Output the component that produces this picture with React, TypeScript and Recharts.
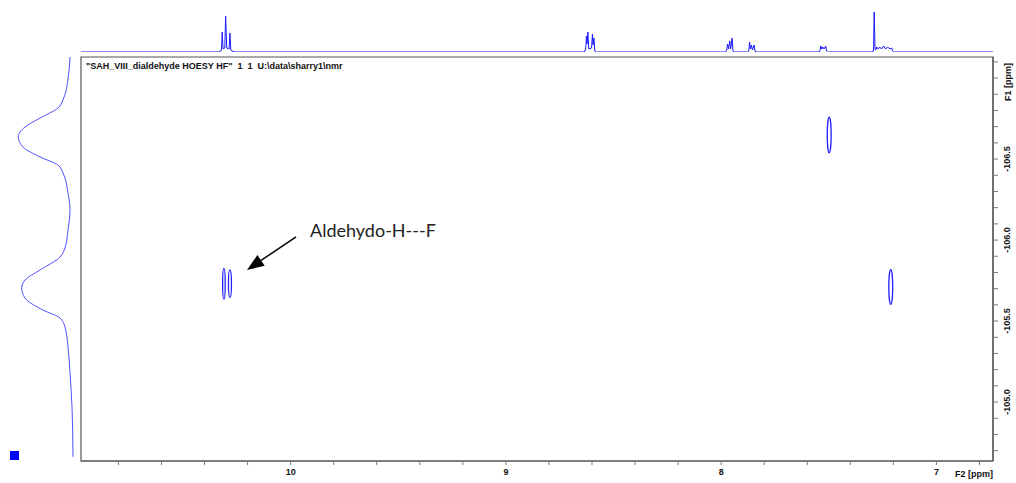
import React from 'react';
import { ComposedChart, LineChart, Line, Scatter, XAxis, YAxis, ReferenceArea, ReferenceLine, Label } from 'recharts';

// axis ranges (ppm)
const F2_DOMAIN: [number, number] = [6.737, 10.974];
const F1_DOMAIN: [number, number] = [-107.13, -104.636];

const f2Ticks = [10.8, 10.6, 10.4, 10.2, 10.0, 9.8, 9.6, 9.4, 9.2, 9.0, 8.8, 8.6, 8.4, 8.2, 8.0, 7.8, 7.6, 7.4, 7.2, 7.0, 6.8];
const f1Ticks = [
  -107.1, -107.0, -106.9, -106.8, -106.7, -106.6, -106.5, -106.4, -106.3, -106.2, -106.1, -106.0,
  -105.9, -105.8, -105.7, -105.6, -105.5, -105.4, -105.3, -105.2, -105.1, -105.0, -104.9, -104.8, -104.7,
];
const f1Labels = [-106.5, -106.0, -105.5, -105.0];

// cross peaks
const peakF2 = [10.310, 10.282, 7.498, 7.212];
const peakF1 = [-105.73, -105.73, -106.648, -105.71];
const peakHalfF2 = [0.006, 0.007, 0.009, 0.009];
const peakHalfF1 = [0.095, 0.085, 0.11, 0.107];

// 1H projection (top)
const topPpm = [
  10.974, 10.335, 10.325, 10.321, 10.318, 10.314, 10.306, 10.302, 10.297, 10.286, 10.282, 10.278, 10.272, 10.26,
  8.64, 8.632, 8.628, 8.626, 8.623, 8.619, 8.615, 8.602, 8.598, 8.595, 8.591, 8.587, 8.58,
  7.98, 7.974, 7.970, 7.966, 7.960, 7.956, 7.949, 7.945, 7.94,
  7.876, 7.871, 7.868, 7.864, 7.859, 7.855, 7.847, 7.843, 7.838,
  7.545, 7.540, 7.537, 7.532, 7.528, 7.522, 7.514, 7.510, 7.505,
  7.295, 7.292, 7.289, 7.285, 7.281, 7.277, 7.270, 7.263, 7.255, 7.245, 7.236, 7.226, 7.217, 7.208, 7.203, 7.198,
  6.737,
];
const topInt = [
  0, 0, 1, 3, 20, 3, 4, 36, 4, 3, 19, 2, 1, 0,
  0, 1, 6, 16, 8, 20, 3, 4, 18, 7, 14, 1, 0,
  0, 2, 8, 3, 11, 3, 14, 1, 0,
  0, 2, 10, 3, 7, 2, 7, 1, 0,
  0, 2, 6, 3, 5, 3, 6, 1, 0,
  0, 2, 40, 3, 2, 5, 3, 5, 3, 6, 3, 5, 3, 4, 1, 0,
  0,
];

// 19F projection (left)
const leftF1 = [
  -107.13, -107.007, -106.865, -106.815, -106.753, -106.698, -106.636, -106.574, -106.513, -106.463, -106.414,
  -106.29, -106.186, -106.062, -105.951, -105.895, -105.815, -105.753, -105.704, -105.642, -105.568, -105.519,
  -105.463, -105.34, -105.18, -104.97, -104.661,
];
const leftInt = [
  4, 5.7, 11, 16, 34, 49, 55.7, 51, 34, 16, 11,
  6, 4, 6, 9, 14, 34, 49, 52.3, 49, 31, 14,
  9, 6, 4, 2, 1,
];

const topData = topPpm.map((ppm, i) => ({ ppm, int: topInt[i] }));
const leftData = leftF1.map((f1, i) => ({ f1, int: leftInt[i] }));
const peakData = peakF2.map((f2, i) => ({ f2, f1: peakF1[i] }));

const AXIS_FONT = { fontFamily: '"Liberation Sans", Arial, sans-serif', fontWeight: 700, fontSize: 9, fill: '#111' };

const F2Tick = (p: any) => {
  const v = p.payload.value;
  if (Math.abs(v - Math.round(v)) > 1e-6) return <g />;
  return (
    <text x={p.x} y={p.y + 8} textAnchor="middle" {...AXIS_FONT}>
      {Math.round(v)}
    </text>
  );
};

const F1Tick = (p: any) => {
  const v = p.payload.value;
  if (!f1Labels.some((l) => Math.abs(l - v) < 1e-6)) return <g />;
  const x = p.x + 7;
  return (
    <text x={x} y={p.y} textAnchor="middle" dominantBaseline="central" transform={`rotate(-90 ${x} ${p.y})`} {...AXIS_FONT}>
      {v.toFixed(1)}
    </text>
  );
};

const Ellipse = (p: any) => (
  <ellipse
    cx={p.x + p.width / 2}
    cy={p.y + p.height / 2}
    rx={Math.abs(p.width) / 2}
    ry={Math.abs(p.height) / 2}
    fill="none"
    stroke="#2424ff"
    strokeWidth={1.3}
  />
);

const Arrow = (p: any) => {
  const { x1, y1, x2, y2 } = p;
  const ang = Math.atan2(y2 - y1, x2 - x1);
  const len = 17;
  const half = 6.5;
  const bx = x2 - len * Math.cos(ang);
  const by = y2 - len * Math.sin(ang);
  const px = -Math.sin(ang) * half;
  const py = Math.cos(ang) * half;
  return (
    <g>
      <line x1={x1} y1={y1} x2={bx} y2={by} stroke="#000" strokeWidth={1.5} />
      <polygon points={`${x2},${y2} ${bx + px},${by + py} ${bx - px},${by - py}`} fill="#000" />
      <text x={x1 + 14} y={y1} fontFamily="Lato, 'Open Sans', sans-serif" fontSize={18} fill="#222">
        Aldehydo-H---F
      </text>
    </g>
  );
};

export default function App() {
  return (
    <div style={{ position: 'absolute', left: 0, top: 0, width: 1016, height: 483, background: '#fff', overflow: 'hidden' }}>
      {/* top 1D projection */}
      <div style={{ position: 'absolute', left: 0, top: 0 }}>
        <LineChart width={1016} height={57} data={topData} margin={{ top: 10, right: 23, bottom: 5, left: 81 }}>
          <XAxis type="number" dataKey="ppm" domain={F2_DOMAIN} reversed hide allowDataOverflow />
          <YAxis type="number" domain={[0, 42]} hide allowDataOverflow />
          <Line type="linear" dataKey="int" stroke="#1a1aff" strokeWidth={1} dot={false} isAnimationActive={false} />
        </LineChart>
      </div>

      {/* left 1D projection */}
      <div style={{ position: 'absolute', left: 0, top: 0 }}>
        <LineChart layout="vertical" width={81} height={483} data={leftData} margin={{ top: 57, right: 7, bottom: 22, left: 14 }}>
          <XAxis type="number" dataKey="int" domain={[0, 60]} reversed hide allowDataOverflow />
          <YAxis type="number" dataKey="f1" domain={F1_DOMAIN} hide allowDataOverflow />
          <Line type="monotone" dataKey="int" stroke="#5050ff" strokeWidth={1} dot={false} isAnimationActive={false} />
        </LineChart>
      </div>

      {/* 2D contour plot */}
      <div style={{ position: 'absolute', left: 0, top: 0 }}>
        <ComposedChart width={1016} height={483} data={peakData} margin={{ top: 57, right: 0, bottom: 0, left: 81 }}>
          <XAxis
            type="number"
            dataKey="f2"
            domain={F2_DOMAIN}
            reversed
            allowDataOverflow
            ticks={f2Ticks}
            interval={0}
            height={22}
            tickSize={4}
            tick={<F2Tick />}
            axisLine={{ stroke: '#555', strokeWidth: 1.2 }}
            tickLine={{ stroke: '#777' }}
          >
            <Label
              content={(lp: any) => {
                const vb = lp.viewBox;
                return (
                  <text x={vb.x + vb.width} y={vb.y + 16} textAnchor="end" {...AXIS_FONT}>
                    F2 [ppm]
                  </text>
                );
              }}
            />
          </XAxis>
          <YAxis
            type="number"
            dataKey="f1"
            orientation="right"
            domain={F1_DOMAIN}
            reversed
            allowDataOverflow
            ticks={f1Ticks}
            interval={0}
            width={23}
            tickSize={5}
            tick={<F1Tick />}
            axisLine={{ stroke: '#555', strokeWidth: 1.2 }}
            tickLine={{ stroke: '#777' }}
          >
            <Label
              content={(lp: any) => {
                const vb = lp.viewBox;
                const x = vb.x + 15;
                const y = vb.y + 25;
                return (
                  <text x={x} y={y} textAnchor="middle" dominantBaseline="central" transform={`rotate(-90 ${x} ${y})`} {...AXIS_FONT}>
                    F1 [ppm]
                  </text>
                );
              }}
            />
          </YAxis>
          <Scatter dataKey="f1" fill="none" shape={() => <g />} isAnimationActive={false} />
          <ReferenceArea
            x1={F2_DOMAIN[0]}
            x2={F2_DOMAIN[1]}
            y1={F1_DOMAIN[0]}
            y2={F1_DOMAIN[1]}
            fill="none"
            fillOpacity={0}
            stroke="#555"
            strokeWidth={1.2}
            ifOverflow="visible"
          />
          {peakF2.map((f2, i) => (
            <ReferenceArea
              key={i}
              x1={f2 - peakHalfF2[i]}
              x2={f2 + peakHalfF2[i]}
              y1={peakF1[i] - peakHalfF1[i]}
              y2={peakF1[i] + peakHalfF1[i]}
              shape={Ellipse}
              ifOverflow="visible"
            />
          ))}
          <ReferenceLine
            segment={[{ x: 9.975, y: -106.02 }, { x: 10.203, y: -105.815 }]}
            shape={Arrow}
            ifOverflow="visible"
          />
        </ComposedChart>
      </div>

      <div
        style={{
          position: 'absolute',
          left: 86,
          top: 60,
          fontFamily: '"Liberation Sans", Arial, sans-serif',
          fontWeight: 700,
          fontSize: 9,
          lineHeight: '12px',
          whiteSpace: 'pre',
          color: '#111',
        }}
      >
        {'"SAH_VIII_dialdehyde HOESY HF"  1  1  U:\\data\\sharry1\\nmr'}
      </div>
      <div style={{ position: 'absolute', left: 10, top: 451, width: 9, height: 9, background: '#0000ff' }} />
    </div>
  );
}
